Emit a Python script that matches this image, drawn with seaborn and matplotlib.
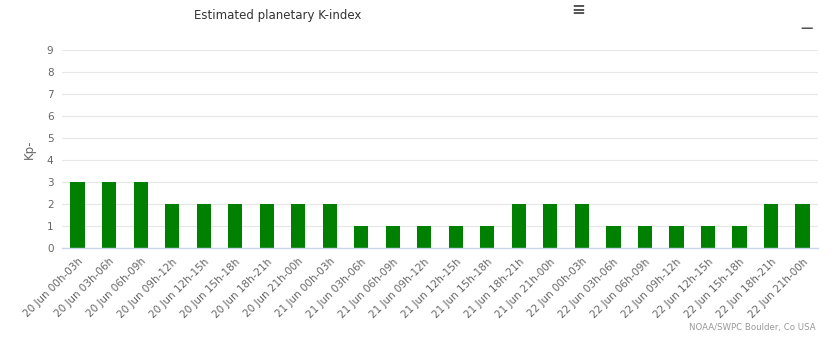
import matplotlib
matplotlib.use("Agg")
import matplotlib.pyplot as plt
import seaborn as sns
import pandas as pd

periods = ["20 Jun 00h-03h", "20 Jun 03h-06h", "20 Jun 06h-09h", "20 Jun 09h-12h",
           "20 Jun 12h-15h", "20 Jun 15h-18h", "20 Jun 18h-21h", "20 Jun 21h-00h",
           "21 Jun 00h-03h", "21 Jun 03h-06h", "21 Jun 06h-09h", "21 Jun 09h-12h",
           "21 Jun 12h-15h", "21 Jun 15h-18h", "21 Jun 18h-21h", "21 Jun 21h-00h",
           "22 Jun 00h-03h", "22 Jun 03h-06h", "22 Jun 06h-09h", "22 Jun 09h-12h",
           "22 Jun 12h-15h", "22 Jun 15h-18h", "22 Jun 18h-21h", "22 Jun 21h-00h"]
kp = [3, 3, 3, 2, 2, 2, 2, 2, 2, 1, 1, 1, 1, 1, 2, 2, 2, 1, 1, 1, 1, 1, 2, 2]
yticks = list(range(0, 10))

df = pd.DataFrame({"period": periods, "kp": kp})

sns.set_theme(style="white")
plt.rcParams['font.family'] = ['DejaVu Sans']

fig = plt.figure(figsize=(8.35, 3.47), dpi=100)
ax = fig.add_axes([0.074, 0.285, 0.906, 0.571])
ax.set_axisbelow(True)

sns.barplot(data=df, x="period", y="kp", color="#008000", width=0.45,
            saturation=1, ax=ax, edgecolor="none", linewidth=0, zorder=3)

ax.set_ylim(0, 9)
ax.set_xlim(-0.5, len(periods) - 0.5)
ax.set_yticks(yticks)
ax.set_yticklabels([str(v) for v in yticks], color="#666666", fontsize=7.5)
ax.set_xticks(range(len(periods)))
ax.set_xticklabels(periods, rotation=45, ha="right", rotation_mode="anchor",
                   color="#666666", fontsize=7.5)
ax.tick_params(axis="both", length=0, pad=6)
ax.grid(axis="y", color="#e6e6e6", linewidth=0.8)
for s in ["top", "right", "left"]:
    ax.spines[s].set_visible(False)
ax.spines["bottom"].set_color("#ccd6eb")
ax.spines["bottom"].set_linewidth(1)
ax.spines["bottom"].set_zorder(4)
ax.set_xlabel("")
ax.set_ylabel("Kp-", color="#666666", fontsize=8.5, labelpad=8)

fig.text(0.333, 0.955, "Estimated planetary K-index", ha="center", va="center",
         fontsize=8.5, color="#333333")
fig.text(0.692, 0.97, "\u2261", ha="center", va="center", fontsize=12,
         color="#555555", fontweight="bold")
fig.text(0.966, 0.918, "\u2014", ha="center", va="center", fontsize=9,
         color="#555555", fontweight="bold")
fig.text(0.977, 0.055, "NOAA/SWPC Boulder, Co USA", ha="right", va="center",
         fontsize=6.2, color="#999999")

fig.savefig("out.png", dpi=100)
